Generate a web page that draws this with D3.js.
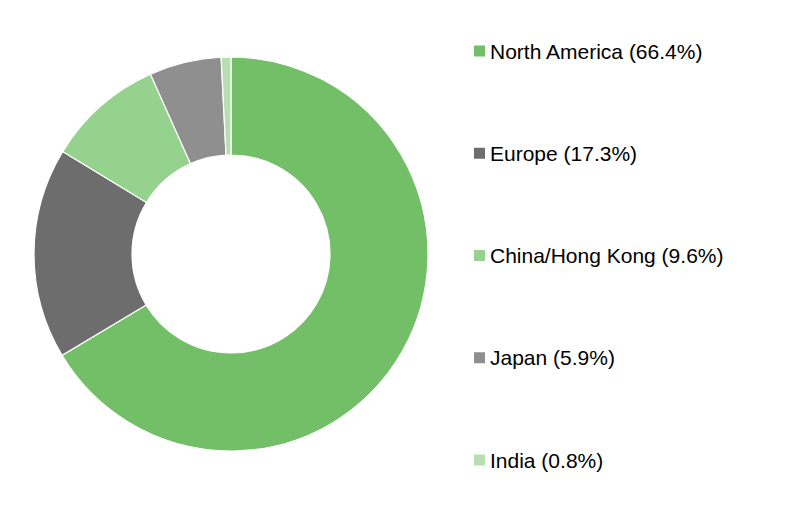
<!DOCTYPE html>
<html><head><meta charset="utf-8">
<script src="https://cdn.jsdelivr.net/npm/d3@7"></script>
<style>body{margin:0;background:#fff;}</style>
</head><body>
<svg id="c" width="800" height="510"></svg>
<script>
const categories = ["North America", "Europe", "China/Hong Kong", "Japan", "India"];
const values = [66.4, 17.3, 9.6, 5.9, 0.8];
const colors = ["#72bf67", "#6d6d6d", "#94d28d", "#8f8f8f", "#b7e0b1"];

const svg = d3.select("#c");
const cx = 231, cy = 254, rO = 197, rI = 99;
const pie = d3.pie().sort(null).value(d => d.v);
const arc = d3.arc().innerRadius(rI).outerRadius(rO);
const data = categories.map((c, i) => ({c, v: values[i], col: colors[i]}));
svg.append("g").attr("transform", `translate(${cx},${cy})`)
  .selectAll("path").data(pie(data)).join("path")
  .attr("d", arc).attr("fill", d => d.data.col)
  .attr("stroke", "#fff").attr("stroke-width", 1.2);

const y = d3.scalePoint().domain(categories).range([51, 460]);
const lg = svg.append("g");
const items = lg.selectAll("g").data(data).join("g")
  .attr("transform", d => `translate(474,${y(d.c)})`);
items.append("rect").attr("x", 0).attr("y", -5.5).attr("width", 11).attr("height", 11)
  .attr("fill", d => d.col);
items.append("text").attr("x", 16).attr("y", 0).attr("dy", "0.36em")
  .attr("font-family", "Liberation Sans, Arial, sans-serif").attr("font-size", 21)
  .attr("fill", "#000")
  .text(d => `${d.c} (${d.v.toFixed(1)}%)`);
</script>
</body></html>
